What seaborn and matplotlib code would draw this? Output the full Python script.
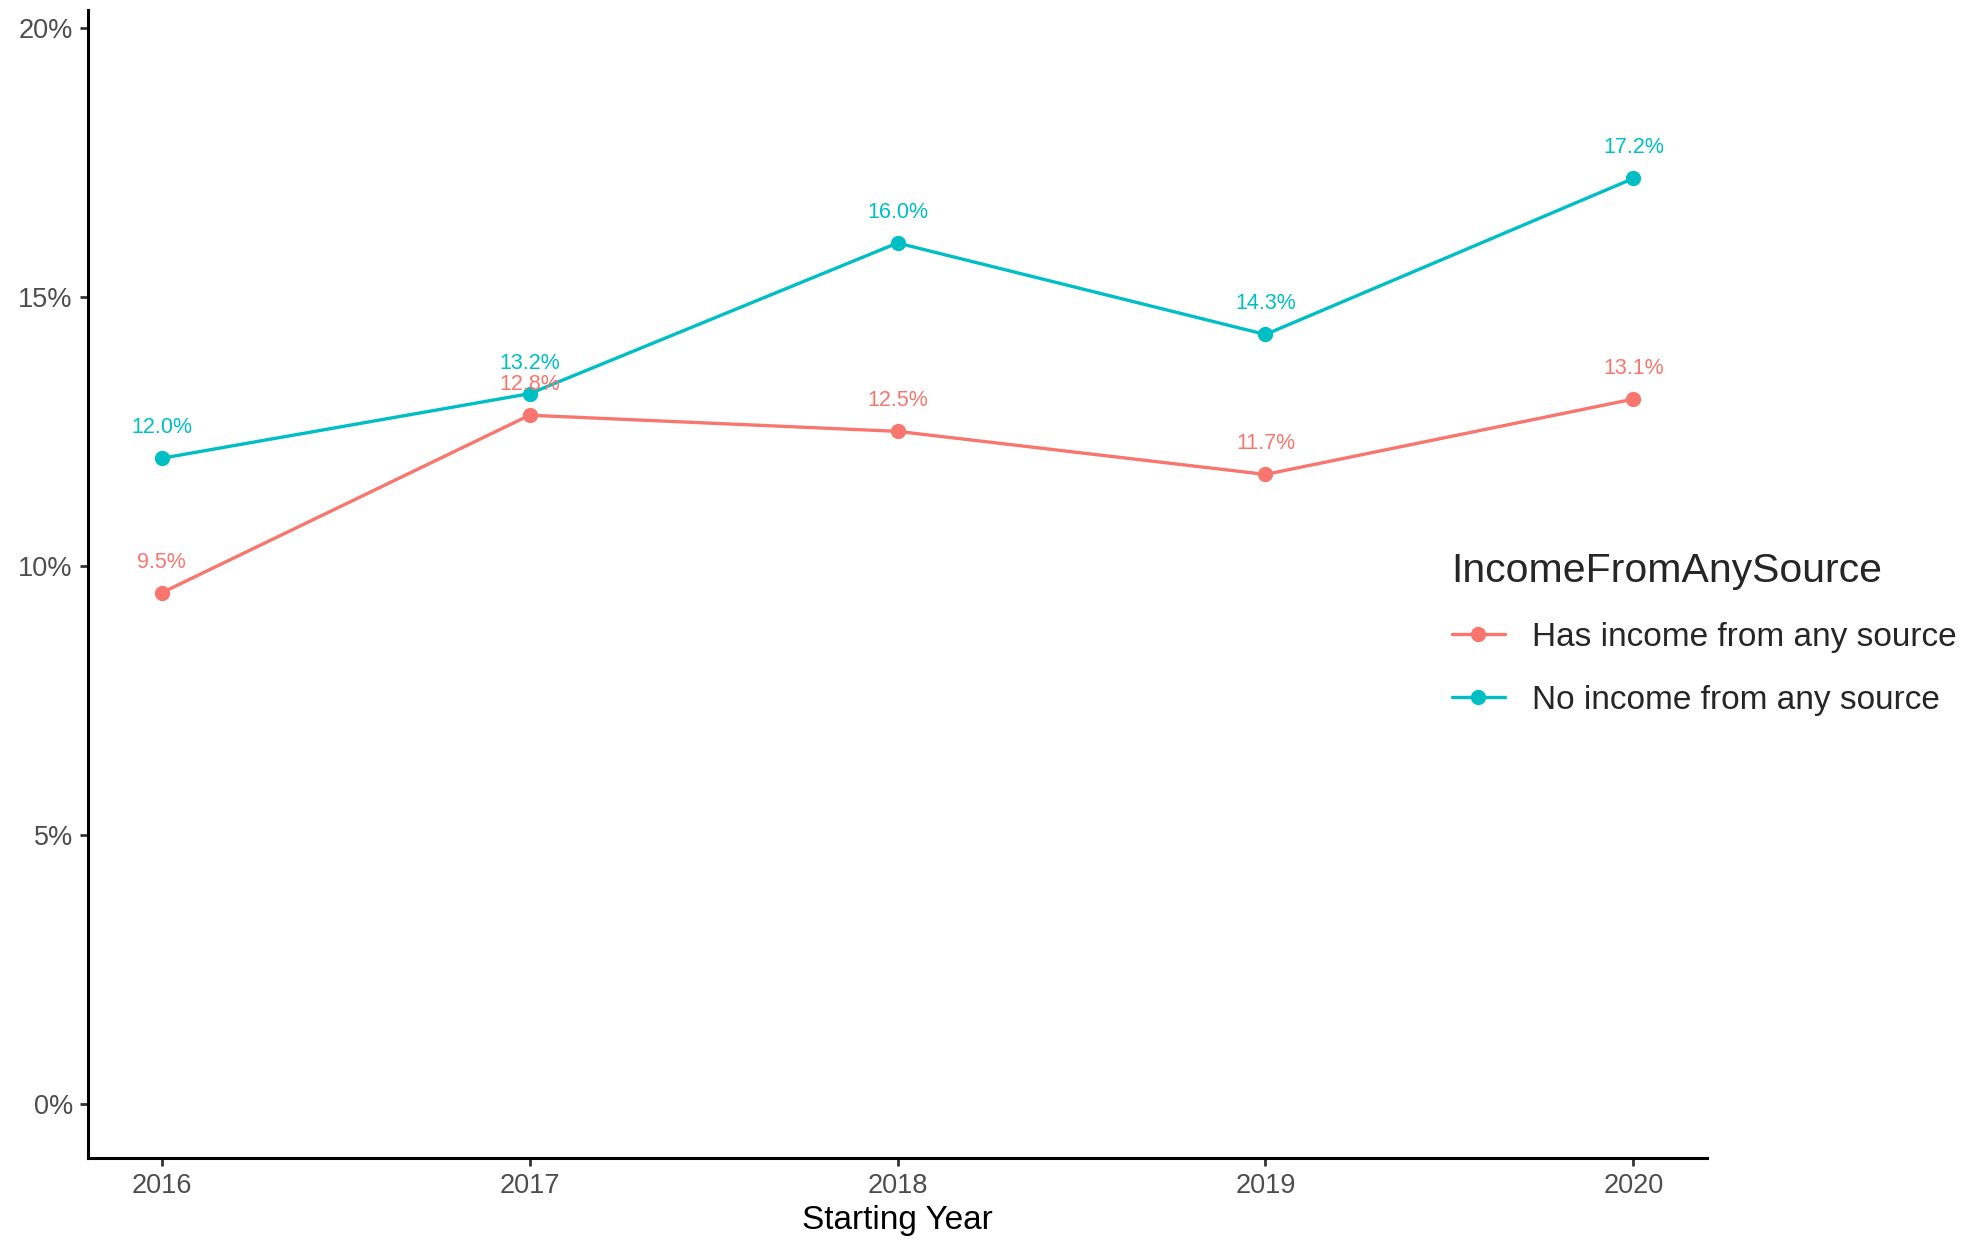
import pandas as pd
import matplotlib
matplotlib.use('Agg')
import matplotlib.pyplot as plt
import seaborn as sns
from matplotlib.ticker import FuncFormatter

# data
years = [2016, 2017, 2018, 2019, 2020]
has_income = [9.5, 12.8, 12.5, 11.7, 13.1]
no_income = [12.0, 13.2, 16.0, 14.3, 17.2]
groups = ['Has income from any source', 'No income from any source']
yticks = [0, 5, 10, 15, 20]

df = pd.DataFrame({
    'StartingYear': years * 2,
    'Pct': has_income + no_income,
    'IncomeFromAnySource': [groups[0]] * len(years) + [groups[1]] * len(years),
})

sns.set_style('white')
plt.rcParams['font.family'] = ['Liberation Sans', 'DejaVu Sans']

palette = {groups[0]: '#F8766D', groups[1]: '#00BFC4'}

fig = plt.figure(figsize=(19.65, 12.41), dpi=100)
ax = fig.add_axes([0.0448, 0.0669, 0.8239, 0.9251])

sns.lineplot(data=df, x='StartingYear', y='Pct', hue='IncomeFromAnySource',
             palette=palette, marker='o', markersize=11, markeredgewidth=0,
             linewidth=2.4, ax=ax, legend=True)

# value labels above the points
for _, row in df.iterrows():
    ax.annotate(f"{row['Pct']:.1f}%", (row['StartingYear'], row['Pct']),
                xytext=(0, 22), textcoords='offset points', ha='center', va='center',
                fontsize=15.5, color=palette[row['IncomeFromAnySource']])

ax.set_xlim(2015.8, 2020.2)
ax.set_ylim(-1.0, 20.33)
ax.set_xticks(years)
ax.set_yticks(yticks)
ax.yaxis.set_major_formatter(FuncFormatter(lambda v, p: f"{v:.0f}%"))
ax.tick_params(axis='both', bottom=True, left=True, labelsize=19.5,
               labelcolor='#4D4D4D', length=6, width=2, color='#333333',
               direction='out', pad=5)
ax.set_xlabel('Starting Year', fontsize=24, color='black', labelpad=4)
ax.set_ylabel('')
for side in ['top', 'right']:
    ax.spines[side].set_visible(False)
for side in ['left', 'bottom']:
    ax.spines[side].set_linewidth(2.2)
    ax.spines[side].set_color('black')

handles, labels = ax.get_legend_handles_labels()
ax.get_legend().remove()
fig.legend(handles, labels, title='IncomeFromAnySource', loc='center left',
           bbox_to_anchor=(0.7235, 0.489), frameon=False, fontsize=24,
           title_fontsize=29.5, handlelength=1.6, handletextpad=0.8,
           labelspacing=0.95, alignment='left')

fig.savefig('out.png', dpi=100)
